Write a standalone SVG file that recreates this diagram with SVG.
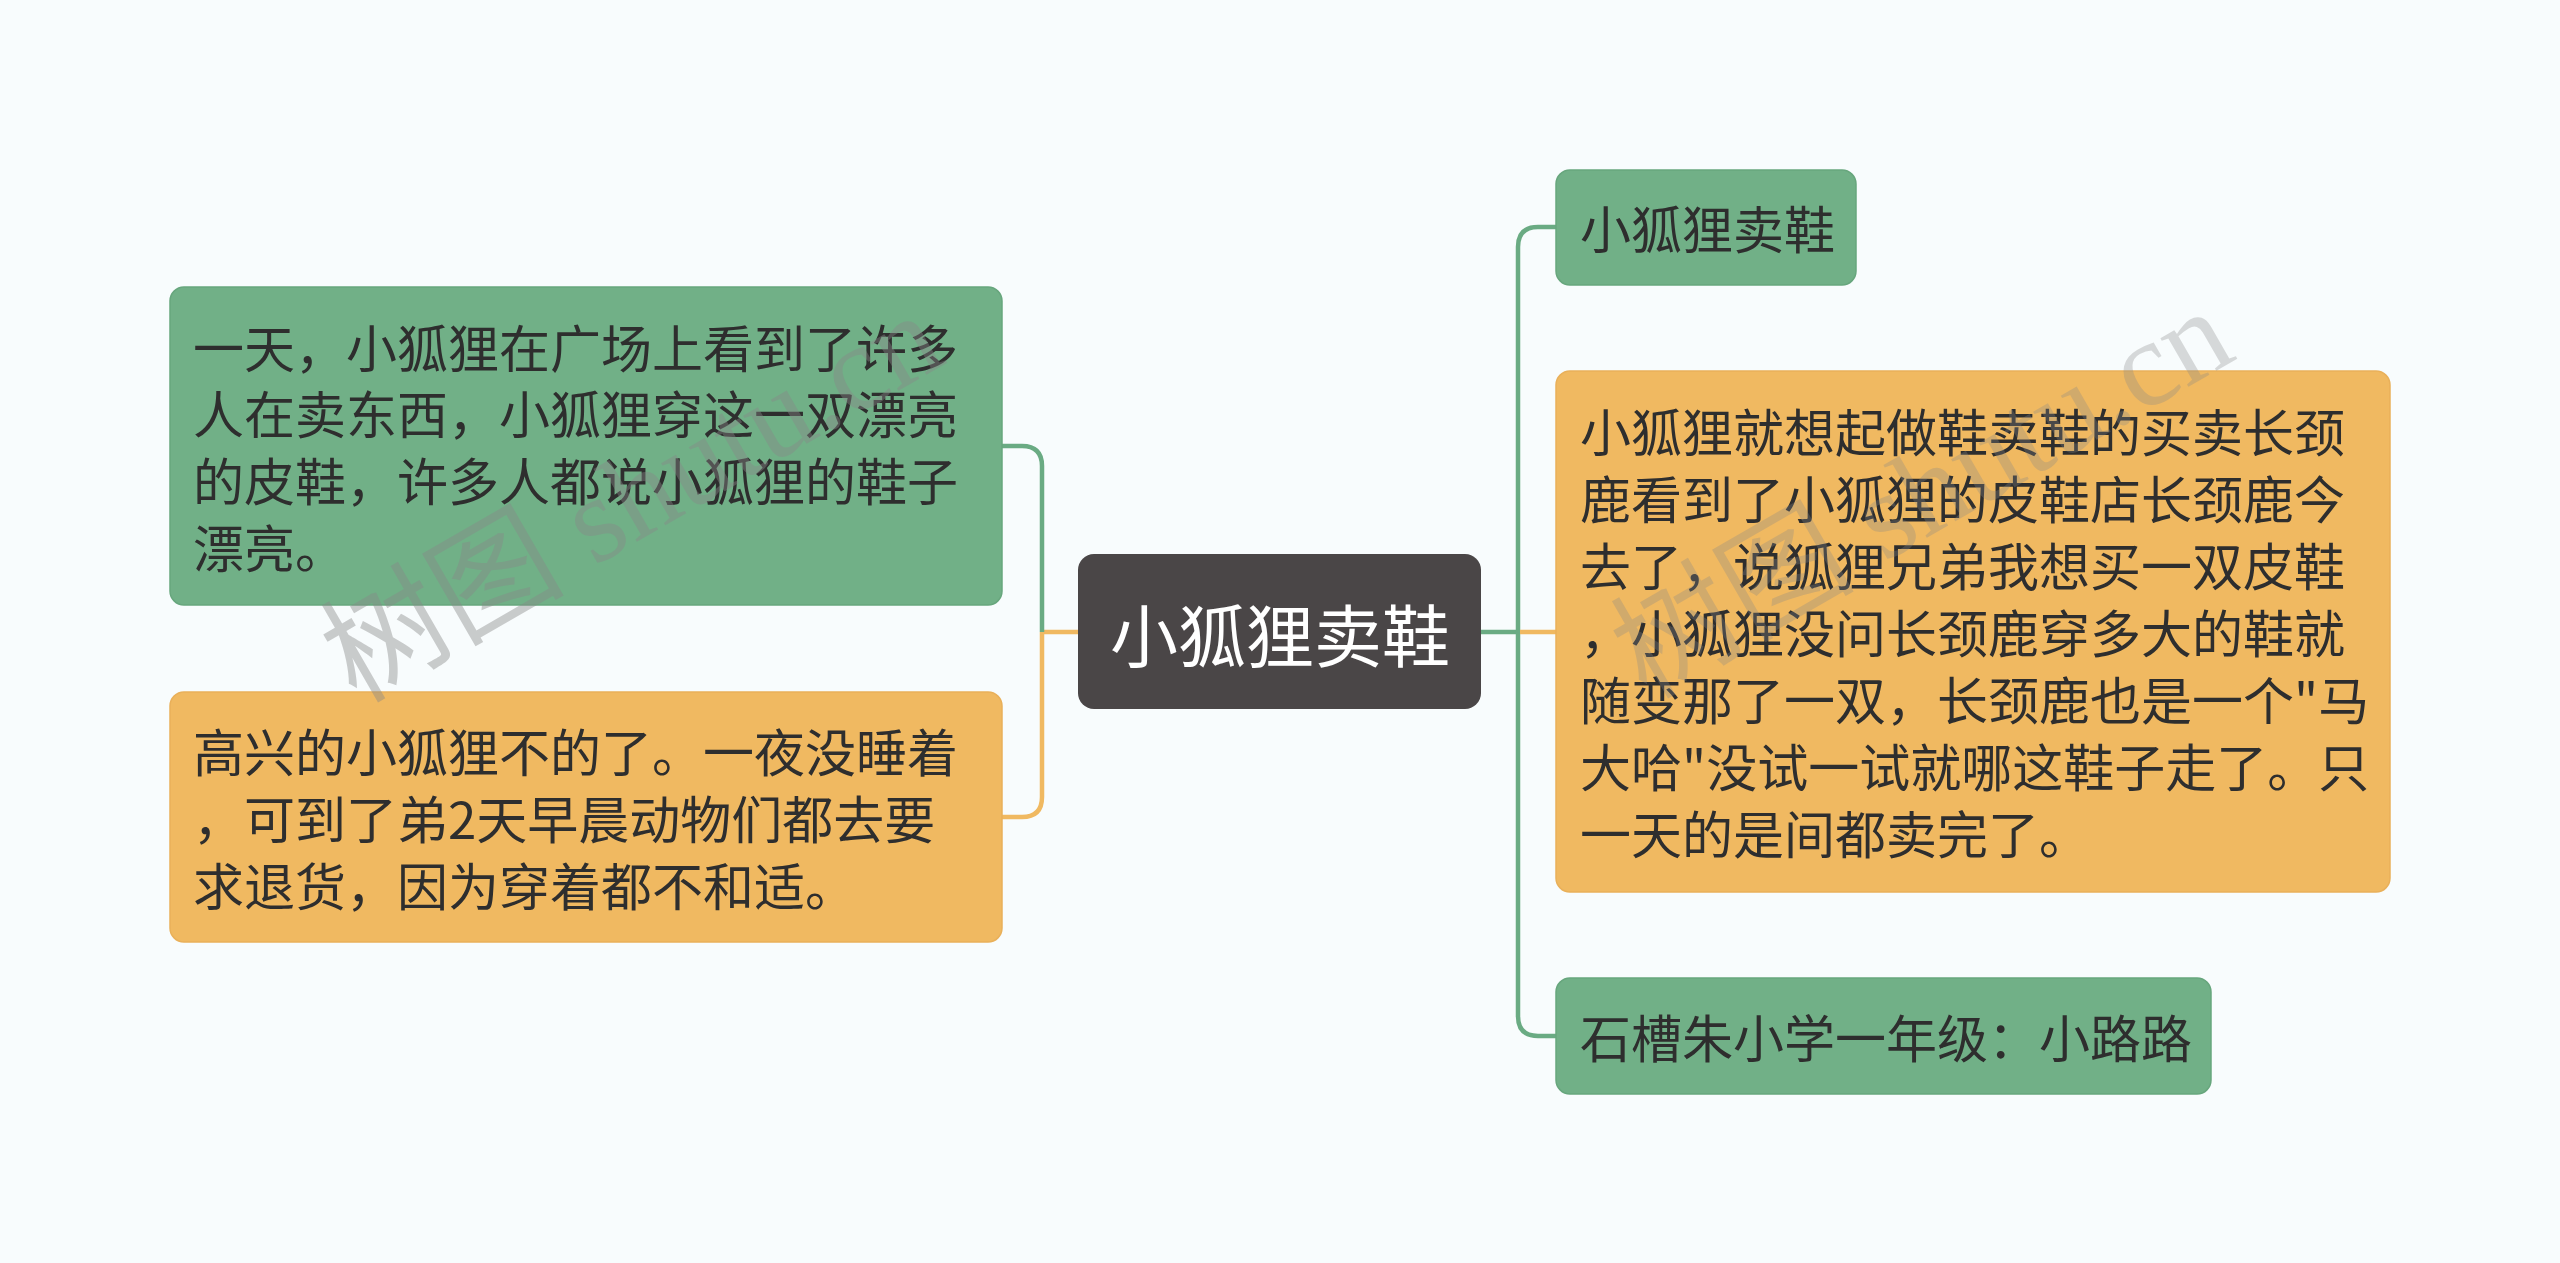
<svg xmlns="http://www.w3.org/2000/svg" width="2560" height="1263" viewBox="0 0 2560 1263">
<style>
.bg{fill:#f8fcfd}
.g{fill:#71b087;stroke:#67a67d;stroke-width:1.5}
.o{fill:#f0b961;stroke:#e9b05a;stroke-width:1.5}
.c{fill:#4a4647}
.t{font-family:"Noto Sans CJK SC","Noto Sans",sans-serif;font-size:51px;fill:#2e2e2e;dominant-baseline:central}
.ct{font-family:"Noto Sans CJK SC","Noto Sans",sans-serif;font-size:68px;fill:#ffffff;dominant-baseline:central;text-anchor:middle}
.lg{fill:none;stroke:#6aab83;stroke-width:4.5}
.lo{fill:none;stroke:#f0b961;stroke-width:4.5}
.wm{font-family:"Liberation Serif","Noto Sans CJK SC",serif;font-size:122px;fill:#888888}
</style>
<rect class="bg" x="0" y="0" width="2560" height="1263"/>
<g id="connectors">
<path class="lo" d="M1078,632 H1042"/>
<path class="lg" d="M1042,632 V466 Q1042,446 1022,446 H1002"/>
<path class="lo" d="M1042,632 V797 Q1042,817 1022,817 H1002"/>
<path class="lg" d="M1481,632 H1518"/>
<path class="lg" d="M1556,227 H1538 Q1518,227 1518,247 V1016 Q1518,1036 1538,1036 H1556"/>
<path class="lo" d="M1520,632 H1556"/>
</g>
<g id="center">
<rect class="c" x="1078" y="554" width="403" height="155" rx="16"/>
<text class="ct" x="1280" y="632">小狐狸卖鞋</text>
</g>
<g id="left1">
<rect class="g" x="170" y="287" width="832" height="318" rx="14"/>
<text class="t" x="193" y="346">一天，小狐狸在广场上看到了许多</text>
<text class="t" x="193" y="412">人在卖东西，小狐狸穿这一双漂亮</text>
<text class="t" x="193" y="479">的皮鞋，许多人都说小狐狸的鞋子</text>
<text class="t" x="193" y="546">漂亮。</text>
</g>
<g id="left2">
<rect class="o" x="170" y="692" width="832" height="250" rx="14"/>
<text class="t" x="193" y="750">高兴的小狐狸不的了。一夜没睡着</text>
<text class="t" x="193" y="817">，可到了弟2天早晨动物们都去要</text>
<text class="t" x="193" y="884">求退货，因为穿着都不和适。</text>
</g>
<g id="right1">
<rect class="g" x="1556" y="170" width="300" height="115" rx="14"/>
<text class="t" x="1580" y="227">小狐狸卖鞋</text>
</g>
<g id="right2">
<rect class="o" x="1556" y="371" width="834" height="521" rx="14"/>
<text class="t" x="1580" y="430">小狐狸就想起做鞋卖鞋的买卖长颈</text>
<text class="t" x="1580" y="497">鹿看到了小狐狸的皮鞋店长颈鹿今</text>
<text class="t" x="1580" y="564">去了，说狐狸兄弟我想买一双皮鞋</text>
<text class="t" x="1580" y="631">，小狐狸没问长颈鹿穿多大的鞋就</text>
<text class="t" x="1580" y="698">随变那了一双，长颈鹿也是一个"马</text>
<text class="t" x="1580" y="765">大哈"没试一试就哪这鞋子走了。只</text>
<text class="t" x="1580" y="832">一天的是间都卖完了。</text>
</g>
<g id="right3">
<rect class="g" x="1556" y="978" width="655" height="116" rx="14"/>
<text class="t" x="1580" y="1036">石槽朱小学一年级：小路路</text>
</g>
<g id="watermarks">
<text class="wm" opacity="0.42" transform="translate(356,704) rotate(-30)">树图 shutu.cn</text>
<text class="wm" opacity="0.3" transform="translate(1646,700) rotate(-30)">树图 shutu.cn</text>
</g>
</svg>
